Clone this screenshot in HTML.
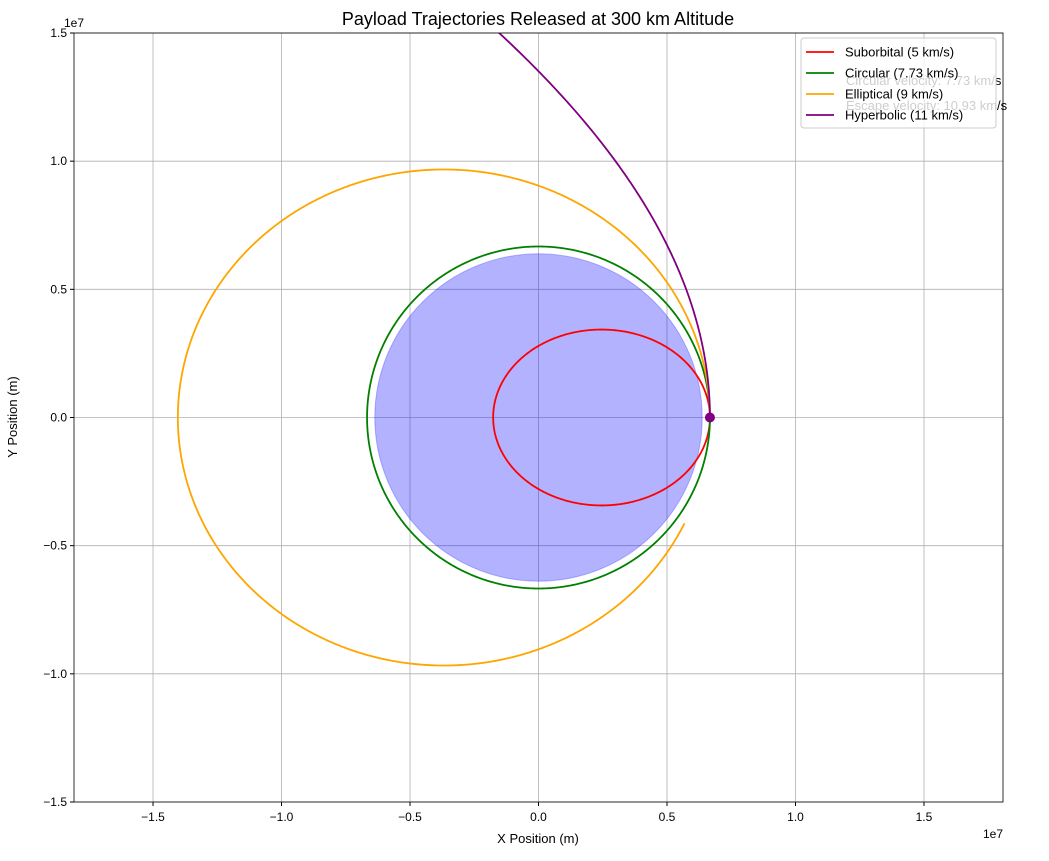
<!DOCTYPE html>
<html><head><meta charset="utf-8"><style>
body{margin:0;background:#fff;}
svg text{font-family:"Liberation Sans",sans-serif;}
</style></head><body>
<svg id="c" width="1049" height="856" xmlns="http://www.w3.org/2000/svg"></svg>
<script>
const seriesNames=["Suborbital (5 km/s)","Circular (7.73 km/s)","Elliptical (9 km/s)","Hyperbolic (11 km/s)"];
const speeds=[5000,7730,9000,11000];
const endAngles=[360,360,324,120];
const colors=["red","green","orange","purple"];
const xTicks=[-1.5,-1.0,-0.5,0.0,0.5,1.0,1.5];
const yTicks=[-1.5,-1.0,-0.5,0.0,0.5,1.0,1.5];
const earthRadius=6.371e6, releaseR=6.671e6, mu=3.986e14;
const L=74,R=1003,T=33,B=802,xmin=-1.8075e7,xmax=1.8075e7,ymin=-1.5e7,ymax=1.5e7;
const sx=v=>L+(v-xmin)/(xmax-xmin)*(R-L);
const sy=v=>B-(v-ymin)/(ymax-ymin)*(B-T);
const svg=document.getElementById('c');
const NS="http://www.w3.org/2000/svg";
function mk(t,a,p){const e=document.createElementNS(NS,t);for(const k in a)e.setAttribute(k,a[k]);(p||svg).appendChild(e);return e;}
mk('rect',{x:0,y:0,width:1049,height:856,fill:'#fff'});
const defs=mk('defs',{});const cp=mk('clipPath',{id:'pc'},defs);mk('rect',{x:L,y:T,width:R-L,height:B-T},cp);
xTicks.forEach(t=>{const x=sx(t*1e7);
 const g=mk('line',{x1:x,x2:x,y1:T,y2:B,stroke:'#b0b0b0','stroke-width':0.8});
 
 mk('line',{x1:x,x2:x,y1:B,y2:B+4,stroke:'#000'});
 const tx=mk('text',{x:x,y:B+19,'text-anchor':'middle','font-size':12});tx.textContent=t.toFixed(1).replace('-','−');
 });
yTicks.forEach(t=>{const y=sy(t*1e7);
 const g=mk('line',{x1:L,x2:R,y1:y,y2:y,stroke:'#b0b0b0','stroke-width':0.8});
 
 mk('line',{x1:L-4,x2:L,y1:y,y2:y,stroke:'#000'});
 const tx=mk('text',{x:L-7,y:y+4,'text-anchor':'end','font-size':12});tx.textContent=t.toFixed(1).replace('-','−');
 });
const pg=mk('g',{'clip-path':'url(#pc)'});
const earth=mk('circle',{cx:sx(0),cy:sy(0),r:sx(earthRadius)-sx(0),fill:'rgba(0,0,255,0.3)',stroke:'rgba(0,0,255,0.25)'},pg);

speeds.forEach((v,i)=>{
 const h=releaseR*v,p=h*h/mu,e=v*v*releaseR/mu-1;let pts=[];
 for(let d=0;d<=endAngles[i];d+=0.5){const th=d*Math.PI/180;const den=1+e*Math.cos(th);if(den<=0.01)break;const r=p/den;if(r>6e7)break;
  pts.push(sx(r*Math.cos(th)).toFixed(2)+','+sy(r*Math.sin(th)).toFixed(2));}
 const pl=mk('polyline',{points:pts.join(' '),fill:'none',stroke:colors[i],'stroke-width':1.8},pg);
 
});
const dot=mk('circle',{cx:sx(releaseR),cy:sy(0),r:5,fill:'purple'},pg);

mk('rect',{x:L,y:T,width:R-L,height:B-T,fill:'none',stroke:'#000','stroke-width':0.8});
const a1=mk('text',{x:846,y:85,'font-size':13,fill:'#000'});a1.textContent='Circular velocity: 7.73 km/s';
const a2=mk('text',{x:846,y:110,'font-size':13,fill:'#000'});a2.textContent='Escape velocity: 10.93 km/s';
const lg=mk('g',{});
mk('rect',{x:801,y:38,width:195,height:90,rx:3,fill:'rgba(255,255,255,0.8)',stroke:'#ccc'},lg);
seriesNames.forEach((n,i)=>{const y=52+i*21;
 mk('line',{x1:806,x2:834,y1:y,y2:y,stroke:colors[i],'stroke-width':1.8},lg);
 const t=mk('text',{x:845,y:y+4.5,'font-size':13},lg);t.textContent=n;
 });
const ti=mk('text',{x:538,y:25,'text-anchor':'middle','font-size':18});ti.textContent='Payload Trajectories Released at 300 km Altitude';
const xl=mk('text',{x:538,y:843,'text-anchor':'middle','font-size':13});xl.textContent='X Position (m)';
const yl=mk('text',{x:17,y:417,'text-anchor':'middle','font-size':13,transform:'rotate(-90 17 417)'});yl.textContent='Y Position (m)';
const e1=mk('text',{x:1003,y:838,'text-anchor':'end','font-size':12});e1.textContent='1e7';
const e2=mk('text',{x:74,y:27,'text-anchor':'middle','font-size':12});e2.textContent='1e7';
</script>
</body></html>
